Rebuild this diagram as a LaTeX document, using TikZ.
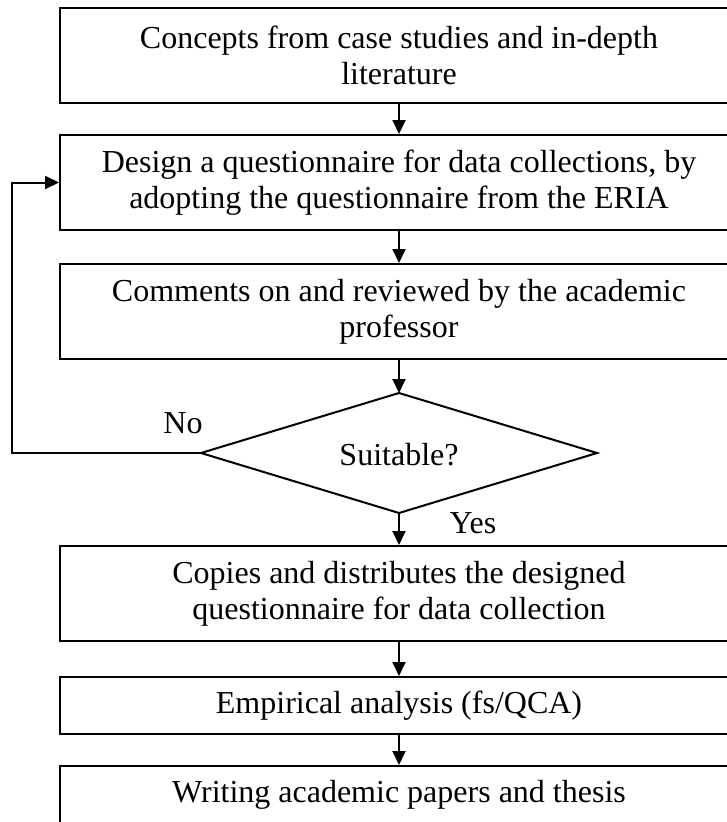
\documentclass[tikz,border=0pt]{standalone}
\usepackage{fontspec}
\setmainfont{Liberation Serif}
\usetikzlibrary{arrows.meta}
\tikzset{
  boxnode/.style={draw, line width=2pt, minimum width=678pt, inner sep=0pt, align=center,
    font=\fontsize{32}{36}\selectfont},
  arr/.style={line width=2pt, -{Triangle[length=14pt,width=13pt]}},
  lbl/.style={inner sep=0pt, font=\fontsize{32}{36}\selectfont},
  plainline/.style={line width=2pt}
}
\begin{document}
\begin{tikzpicture}[x=1pt,y=-1pt]
\useasboundingbox (0,0) rectangle (727,822);
\node[boxnode, minimum height=95pt] (b1) at (399,55.5) {Concepts from case studies and in-depth\\literature};
\node[boxnode, minimum height=95pt] (b2) at (399,182.5) {Design a questionnaire for data collections, by\\adopting the questionnaire from the ERIA};
\node[boxnode, minimum height=95pt] (b3) at (399,311.5) {Comments on and reviewed by the academic\\professor};
\node[lbl] (dec) at (399,455) {Suitable?};
\coordinate (dT) at (399,393);
\coordinate (dR) at (597,453);
\coordinate (dB) at (399,513);
\coordinate (dL) at (201,453);
\coordinate (fb) at (12,453);
\draw[plainline] (dT) -- (dR) -- (dB) -- (dL) -- cycle;
\node[boxnode, minimum height=95pt] (b4) at (399,593.5) {Copies and distributes the designed\\questionnaire for data collection};
\node[boxnode, minimum height=57pt] (b5) at (399,705.5) {Empirical analysis (fs/QCA)};
\node[boxnode, minimum height=57pt] (b6) at (399,794.5) {Writing academic papers and thesis};
\node[lbl] (no) at (183,423) {No};
\node[lbl] (yes) at (473,523) {Yes};
\draw[arr] (b1) -- (b2);
\draw[arr] (b2) -- (b3);
\draw[arr] (b3) -- (dT);
\draw[arr] (dB) -- (b4);
\draw[arr] (b4) -- (b5);
\draw[arr] (b5) -- (b6);
\draw[arr] (dL) -- (fb) |- (b2.west);
\end{tikzpicture}
\end{document}
